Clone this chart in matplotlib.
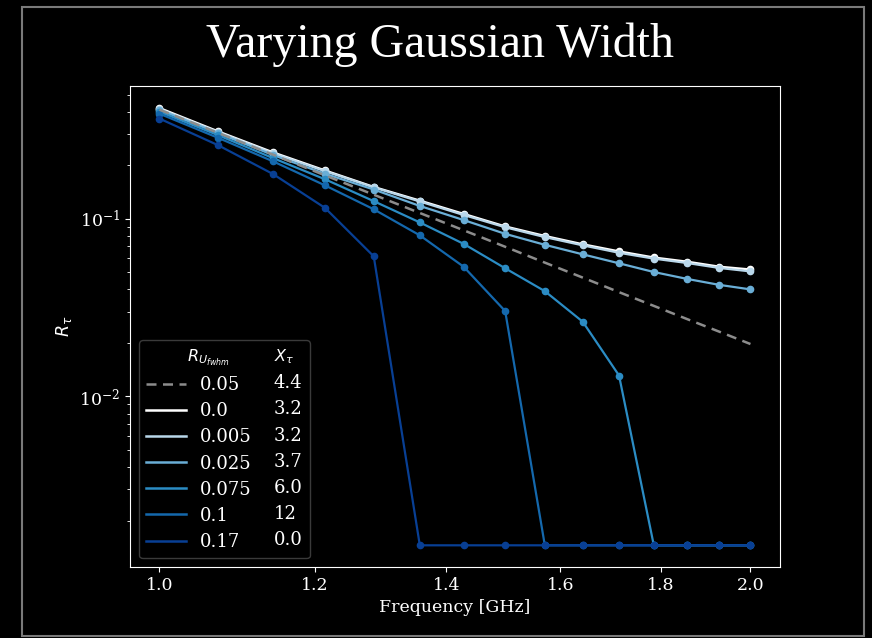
import matplotlib.pyplot as plt
from matplotlib.lines import Line2D
from matplotlib.patches import Rectangle
from matplotlib.transforms import Affine2D
from matplotlib.ticker import FixedLocator, FixedFormatter, NullLocator

plt.rcParams['font.family'] = 'DejaVu Serif'
plt.rcParams['mathtext.fontset'] = 'dejavusans'

# frequency grid [GHz]
freq = [1.0, 1.0714, 1.1429, 1.2143, 1.2857, 1.3571, 1.4286, 1.5,
        1.5714, 1.6429, 1.7143, 1.7857, 1.8571, 1.9286, 2.0]

# reference curve (dashed)
ref_width = "0.05"
ref_xtau = "4.4"
r_ref = [0.411, 0.304, 0.229, 0.1754, 0.1365, 0.1077, 0.0861, 0.0695,
         0.0566, 0.0466, 0.0386, 0.0323, 0.0272, 0.0231, 0.0197]

# R_tau for each gaussian width
widths = ["0.0", "0.005", "0.025", "0.075", "0.1", "0.17"]
xtau = ["3.2", "3.2", "3.7", "6.0", "12", "0.0"]
r_w000 = [0.42, 0.31, 0.236, 0.187, 0.151, 0.1265, 0.1065, 0.0905,
          0.080, 0.0718, 0.0655, 0.0605, 0.0573, 0.0537, 0.0518]
r_w005 = [0.415, 0.307, 0.233, 0.185, 0.150, 0.125, 0.105, 0.0895,
          0.0788, 0.0708, 0.0643, 0.0596, 0.0563, 0.0528, 0.0505]
r_w025 = [0.41, 0.303, 0.228, 0.179, 0.146, 0.118, 0.0983, 0.0822,
          0.0713, 0.063, 0.0561, 0.0501, 0.0458, 0.0424, 0.040]
r_w075 = [0.40, 0.295, 0.219, 0.1667, 0.1256, 0.0953, 0.0722, 0.0526,
          0.0391, 0.0263, 0.0131, 0.00145, 0.00145, 0.00145, 0.00145]
r_w100 = [0.39, 0.285, 0.210, 0.154, 0.113, 0.0806, 0.0537, 0.0302,
          0.00145, 0.00145, 0.00145, 0.00145, 0.00145, 0.00145, 0.00145]
r_w170 = [0.366, 0.259, 0.178, 0.115, 0.0614, 0.00145, 0.00145, 0.00145,
          0.00145, 0.00145, 0.00145, 0.00145, 0.00145, 0.00145, 0.00145]
series = [r_w000, r_w005, r_w025, r_w075, r_w100, r_w170]
colors = ['#ffffff', '#b9d7ea', '#6aaed6', '#2b8cc4', '#1468ad', '#083f94']

xticks = [1.0, 1.2, 1.4, 1.6, 1.8, 2.0]
xticklabels = ['1.0', '1.2', '1.4', '1.6', '1.8', '2.0']

fig = plt.figure(figsize=(8.72, 6.38), dpi=100, facecolor='black')
fig.patches.append(Rectangle((22 / 872, 2 / 638), 842 / 872, 629 / 638,
                             transform=fig.transFigure, fill=False,
                             edgecolor='#7a7a7a', lw=1.5))
ax = fig.add_axes([0.149, 0.111, 0.7455, 0.754])
ax.set_facecolor('black')

for vals, c in zip(series, colors):
    ax.plot(freq, vals, '-o', color=c, lw=1.6, ms=4.5)
ref_style = dict(color='#8c8c8c', lw=1.8, ls=(0, (4, 2.6)))
ax.plot(freq, r_ref, zorder=3, **ref_style)

ax.set_xscale('log')
ax.set_yscale('log')
ax.xaxis.set_major_locator(FixedLocator(xticks))
ax.xaxis.set_major_formatter(FixedFormatter(xticklabels))
ax.xaxis.set_minor_locator(NullLocator())

for s in ax.spines.values():
    s.set_color('white')
ax.tick_params(which='both', colors='white', labelsize=12.5)
ax.set_xlabel('Frequency [GHz]', color='white', fontsize=12.5)
ax.set_ylabel(r'$R_\tau$', color='white', fontsize=12.5)

fig.text(0.505, 1 - 45 / 638, 'Varying Gaussian Width', color='white',
         family='Liberation Serif', fontsize=34.5, ha='center', va='center')

# two-column legend: width | X_tau, lines only
blank = Line2D([], [], color='none')
handles = ([blank, Line2D([], [], **ref_style)]
           + [Line2D([], [], color=c, lw=1.8) for c in colors]
           + [blank] * 8)
labels = ([r'$R_{U_{fwhm}}$', ref_width] + widths
          + [r'$X_\tau$', ref_xtau] + xtau)
leg = ax.legend(handles, labels, ncol=2, loc='lower left', fontsize=13,
                labelspacing=0.45, columnspacing=-1.8, handlelength=2.2,
                facecolor='black', edgecolor='#3a3a3a', framealpha=1)
texts = leg.get_texts()
for t in texts:
    t.set_color('white')
# column headers slightly smaller, first one pulled left
for t in (texts[0], texts[8]):
    t.set_fontsize(11.5)
texts[0].set_transform(texts[0].get_transform() + Affine2D().translate(-13, 0))

fig.savefig('out.png', dpi=100, facecolor='black')
